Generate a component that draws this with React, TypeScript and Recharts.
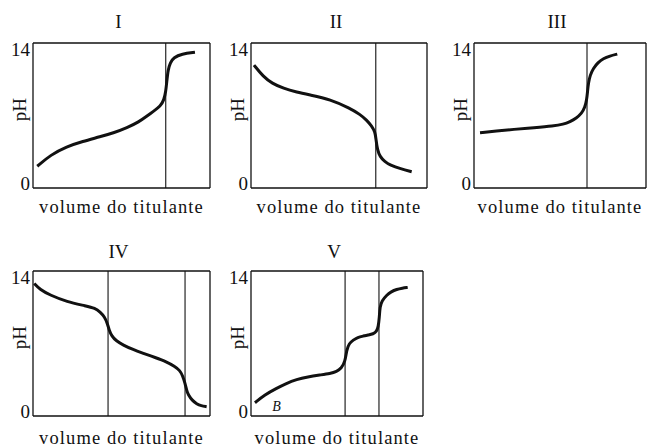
import { LineChart, Line, XAxis, YAxis, ReferenceLine, ReferenceDot } from "recharts";

// titulação: volume (0-100 % da caixa) e pH
const volI = [2.4, 10, 19, 28, 38, 46, 53, 60, 64, 68, 72, 74, 75, 75.6, 76.3, 77.5, 79.5, 84, 91.5];
const phI = [2.1, 3.2, 4.0, 4.5, 4.95, 5.35, 5.8, 6.4, 6.9, 7.4, 7.9, 8.5, 9.3, 10.3, 11.4, 12.1, 12.6, 12.95, 13.1];
const eqI = [75];

const volII = [1.7, 7, 12, 18.4, 26, 33.5, 45, 56.3, 62, 65.7, 68.5, 70.5, 71, 71.8, 73.3, 76, 79, 85, 91.3];
const phII = [11.87, 10.74, 10.1, 9.62, 9.25, 8.98, 8.56, 7.69, 7.1, 6.56, 6.0, 5.43, 4.7, 3.7, 3.02, 2.55, 2.22, 1.85, 1.57];
const eqII = [70.9];

const volIII = [3.5, 13, 22.9, 35, 46.1, 52, 55.8, 59.5, 62.6, 64.5, 65.5, 66, 66.5, 67.5, 69.4, 72, 75.2, 79, 83.3];
const phIII = [5.34, 5.5, 5.66, 5.82, 5.98, 6.15, 6.4, 6.75, 7.2, 7.8, 8.5, 9.3, 10.1, 10.9, 11.55, 12.1, 12.5, 12.75, 12.93];
const eqIII = [65.7];

const volIV = [0.7, 4, 9.6, 19, 30.3, 35, 37.9, 40.5, 42, 43, 44.5, 47, 51, 56, 62.3, 69, 75.5, 80, 83, 84.5, 85.9, 86.8, 87.7, 90, 92.5, 95, 98.1];
const phIV = [12.8, 12.2, 11.68, 11.03, 10.62, 10.4, 10.07, 9.55, 8.95, 8.3, 7.72, 7.25, 6.85, 6.45, 6.05, 5.65, 5.24, 4.8, 4.4, 3.9, 3.16, 2.5, 2.03, 1.5, 1.16, 0.98, 0.9];
const eqIV = [42.4, 85.9];

const volV = [2.3, 8, 14.9, 20, 26.6, 33, 40.1, 46, 49.8, 52.5, 54.7, 55.6, 57, 59.5, 62, 65.3, 68, 71.1, 73, 74, 74.6, 75, 76, 78.9, 81.5, 84.7, 88, 91.1];
const phV = [1.28, 2.05, 2.67, 3.1, 3.54, 3.78, 3.96, 4.1, 4.28, 4.6, 5.24, 6.37, 7.0, 7.34, 7.6, 7.72, 7.82, 7.92, 8.15, 8.62, 9.5, 10.55, 11.1, 11.68, 12.0, 12.23, 12.35, 12.42];
const eqV = [54.7, 74.4];
const notesV = [{ v: 14.8, ph: 0.9, text: "B" }];

const phTicks = [0, 14];
const xLabel = "volume do titulante";

const FONT = "'Liberation Serif', 'Times New Roman', serif";
const INK = "#111";

const zip = (vol: number[], ph: number[]) => vol.map((v, i) => ({ v, ph: ph[i] }));

// posição da caixa de cada gráfico na página
const panels = [
  { title: "I", data: zip(volI, phI), eq: eqI, notes: [], left: 33, top: 43, w: 177, h: 145, titleGap: 15, labelGap: 25 },
  { title: "II", data: zip(volII, phII), eq: eqII, notes: [], left: 251, top: 43, w: 176, h: 145, titleGap: 15, labelGap: 25 },
  { title: "III", data: zip(volIII, phIII), eq: eqIII, notes: [], left: 474, top: 43, w: 172, h: 145, titleGap: 15, labelGap: 25 },
  { title: "IV", data: zip(volIV, phIV), eq: eqIV, notes: [], left: 33, top: 271, w: 177, h: 145, titleGap: 13, labelGap: 28 },
  { title: "V", data: zip(volV, phV), eq: eqV, notes: notesV, left: 251, top: 271, w: 172, h: 145, titleGap: 13, labelGap: 28 },
];

const AXIS_W = 33;
const TOP_M = 43;
const BOT_M = 32;

const PhTick = (props: any) => {
  const { x, y, payload } = props;
  const dy = payload.value === 14 ? 6 : -5;
  return (
    <text x={x} y={y + dy} textAnchor="end" dominantBaseline="central" fontFamily={FONT} fontSize={19} fill={INK}>
      {payload.value}
    </text>
  );
};

const Panel = ({ p }: any) => {
  const width = AXIS_W + p.w + 2;
  const height = TOP_M + p.h + BOT_M;
  const box = { stroke: INK, strokeWidth: 1.3 };
  return (
    <div style={{ position: "absolute", left: p.left - AXIS_W, top: p.top - TOP_M }}>
      <LineChart width={width} height={height} data={p.data} margin={{ top: TOP_M - 1, right: 1, left: 0, bottom: BOT_M - 1 }}>
        <XAxis
          type="number"
          dataKey="v"
          domain={[0, 100]}
          height={1}
          tick={false}
          tickLine={false}
          axisLine={box}
          label={{
            content: (lp: any) => {
              const vb = lp.viewBox;
              return (
                <text x={vb.x + vb.width / 2} y={vb.y + p.labelGap} textAnchor="middle" fontFamily={FONT} fontSize={18.5} letterSpacing={1.1} fill={INK}>
                  {xLabel}
                </text>
              );
            },
          }}
        />
        <XAxis
          xAxisId="top"
          orientation="top"
          type="number"
          dataKey="v"
          domain={[0, 100]}
          height={1}
          tick={false}
          tickLine={false}
          axisLine={box}
          label={{
            content: (lp: any) => {
              const vb = lp.viewBox;
              return (
                <text x={vb.x + vb.width / 2 - 3} y={vb.y + vb.height - p.titleGap} textAnchor="middle" fontFamily={FONT} fontSize={19} fill={INK}>
                  {p.title}
                </text>
              );
            },
          }}
        />
        <YAxis
          type="number"
          domain={[0, 14]}
          ticks={phTicks}
          width={AXIS_W}
          tickSize={0}
          tickMargin={3}
          tickLine={false}
          tick={<PhTick />}
          axisLine={box}
          label={{
            content: (lp: any) => {
              const vb = lp.viewBox;
              const cx = vb.x + vb.width - 14;
              const cy = vb.y + vb.height / 2 - 6;
              return (
                <text x={cx} y={cy} transform={`rotate(-90, ${cx}, ${cy})`} textAnchor="middle" dominantBaseline="central" fontFamily={FONT} fontSize={19} fill={INK}>
                  pH
                </text>
              );
            },
          }}
        />
        <YAxis
          yAxisId="right"
          orientation="right"
          type="number"
          domain={[0, 14]}
          width={1}
          tick={false}
          tickLine={false}
          axisLine={box}
        />
        {p.eq.map((x: number) => (
          <ReferenceLine key={x} x={x} stroke={INK} strokeWidth={1.1} />
        ))}
        {p.notes.map((n: any) => (
          <ReferenceDot
            key={n.text}
            x={n.v}
            y={n.ph}
            r={0}
            fill="none"
            stroke="none"
            label={{
              content: (lp: any) => {
                const vb = lp.viewBox;
                return (
                  <text x={vb.x + (vb.width || 0) / 2} y={vb.y + (vb.height || 0) / 2} textAnchor="middle" dominantBaseline="central" fontFamily={FONT} fontStyle="italic" fontSize={14} fill={INK}>
                    {n.text}
                  </text>
                );
              },
            }}
          />
        ))}
        <Line type="basis" dataKey="ph" stroke={INK} strokeWidth={3} dot={false} isAnimationActive={false} />
      </LineChart>
    </div>
  );
};

export default function App() {
  return (
    <div style={{ position: "fixed", left: 0, top: 0, width: 648, height: 448, overflow: "hidden", background: "#fff" }}>
      {panels.map((p) => (
        <Panel key={p.title} p={p} />
      ))}
    </div>
  );
}
